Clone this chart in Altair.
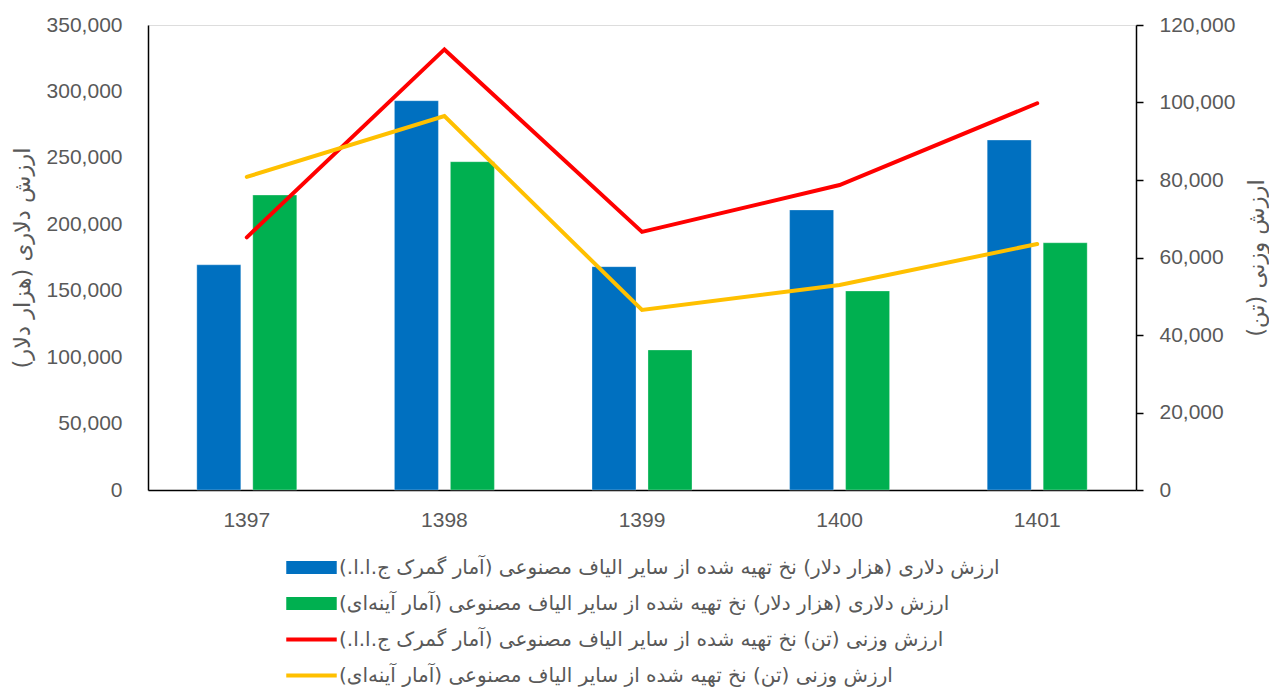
import altair as alt
import pandas as pd

years = ["1397", "1398", "1399", "1400", "1401"]
RLM = "\u200f"
series = [
    RLM + "ارزش دلاری (هزار دلار) نخ تهیه شده از سایر الیاف مصنوعی (آمار گمرک ج.ا.ا.)" + RLM,
    RLM + "ارزش دلاری (هزار دلار) نخ تهیه شده از سایر الیاف مصنوعی (آمار آینه\u200cای)" + RLM,
    RLM + "ارزش وزنی (تن) نخ تهیه شده از سایر الیاف مصنوعی (آمار گمرک ج.ا.ا.)" + RLM,
    RLM + "ارزش وزنی (تن) نخ تهیه شده از سایر الیاف مصنوعی (آمار آینه\u200cای)" + RLM,
]
colors = ["#0070C0", "#00B050", "#FF0000", "#FFC000"]

dollar_customs = [169500, 293000, 168100, 210800, 263400]
dollar_mirror = [222000, 247100, 105400, 149800, 186100]
weight_customs = [65200, 113700, 66600, 78700, 99800]
weight_mirror = [80800, 96500, 46450, 52900, 63480]

left_title = RLM + "ارزش دلاری (هزار دلار)" + RLM
right_title = RLM + "ارزش وزنی (تن)" + RLM

bar_rows = []
for i, y in enumerate(years):
    bar_rows.append({"year": y, "series": series[0], "value": dollar_customs[i]})
    bar_rows.append({"year": y, "series": series[1], "value": dollar_mirror[i]})
bars_df = pd.DataFrame(bar_rows)

line_rows = []
for i, y in enumerate(years):
    line_rows.append({"year": y, "series": series[2], "value": weight_customs[i]})
    line_rows.append({"year": y, "series": series[3], "value": weight_mirror[i]})
lines_df = pd.DataFrame(line_rows)

FONT = "Liberation Sans, DejaVu Sans"
AR_FONT = "DejaVu Sans"
GRAY = "#595959"

color_scale = alt.Scale(domain=series, range=colors)
RECT = "M-1.4,-0.36L1.4,-0.36L1.4,0.36L-1.4,0.36Z"
LINE = "M-1.4,-0.11L1.4,-0.11L1.4,0.11L-1.4,0.11Z"
shape_scale = alt.Scale(domain=series, range=[RECT, RECT, LINE, LINE])

x_axis = alt.Axis(
    labelAngle=0,
    labelAlign="center",
    ticks=False,
    domainColor="black",
    domainWidth=1.5,
    labelColor=GRAY,
    labelFontSize=21,
    labelPadding=19,
    labelFont=FONT,
)
x_scale = alt.Scale(paddingInner=0.494, paddingOuter=0.247)


def x_enc():
    return alt.X("year:N", sort=years, title=None, scale=x_scale, axis=x_axis)


legend_props = dict(
    title=None,
    orient="none",
    legendX=145,
    legendY=524,
    direction="vertical",
    columns=1,
    symbolSize=1300,
    symbolStrokeWidth=0,
    symbolOpacity=1,
    labelFontSize=20,
    labelColor=GRAY,
    labelFont=AR_FONT,
    labelLimit=1000,
    labelOffset=9,
    rowPadding=7,
)

legend_layer = (
    alt.Chart(lines_df)
    .transform_filter("datum.value < 0")
    .mark_point(filled=True, opacity=1)
    .encode(
        x=x_enc(),
        y=alt.Y("value:Q", axis=None),
        color=alt.Color("series:N", scale=color_scale, legend=alt.Legend(**legend_props)),
        shape=alt.Shape("series:N", scale=shape_scale, legend=alt.Legend(**legend_props)),
    )
)

bars = (
    alt.Chart(bars_df)
    .mark_bar(stroke="white", strokeWidth=0.5, strokeOpacity=0.6)
    .encode(
        x=x_enc(),
        xOffset=alt.XOffset("series:N", scale=alt.Scale(domain=series[:2], paddingInner=0.214, paddingOuter=0)),
        y=alt.Y(
            "value:Q",
            scale=alt.Scale(domain=[0, 350000]),
            title=left_title,
            axis=alt.Axis(
                orient="left",
                values=list(range(0, 350001, 50000)),
                format=",.0f",
                grid=False,
                ticks=False,
                domainColor="black",
                domainWidth=1.5,
                labelColor=GRAY,
                labelFontSize=21,
                labelPadding=26,
                labelFont=FONT,
                titleColor=GRAY,
                titleFontSize=22.5,
                titleFontWeight="normal",
                titleFont=AR_FONT,
                titlePadding=12,
            ),
        ),
        color=alt.Color("series:N", scale=color_scale, legend=None),
    )
)

lines = (
    alt.Chart(lines_df)
    .mark_line(strokeWidth=4, strokeCap="round")
    .encode(
        x=x_enc(),
        y=alt.Y(
            "value:Q",
            scale=alt.Scale(domain=[0, 120000]),
            title=right_title,
            axis=alt.Axis(
                orient="right",
                values=list(range(0, 120001, 20000)),
                format=",.0f",
                grid=False,
                ticks=True,
                tickSize=7,
                tickColor="black",
                tickWidth=1.5,
                domainColor="black",
                domainWidth=1.5,
                labelColor=GRAY,
                labelFontSize=21,
                labelPadding=16,
                labelFont=FONT,
                titleColor=GRAY,
                titleFontSize=22.5,
                titleFontWeight="normal",
                titleFont=AR_FONT,
                titleAngle=-90,
                titlePadding=34,
            ),
        ),
        color=alt.Color("series:N", scale=color_scale, legend=None),
    )
)

chart = (
    alt.layer(legend_layer, bars, lines)
    .resolve_scale(y="independent")
    .properties(
        width=988,
        height=465,
        autosize=alt.AutoSizeParams(type="none"),
        padding={"left": 140, "top": 17, "right": 133, "bottom": 198},
    )
    .configure_view(stroke=None)
    .configure(font=FONT)
)

chart.save("out.html", embed_options={"renderer": "svg", "actions": False})
